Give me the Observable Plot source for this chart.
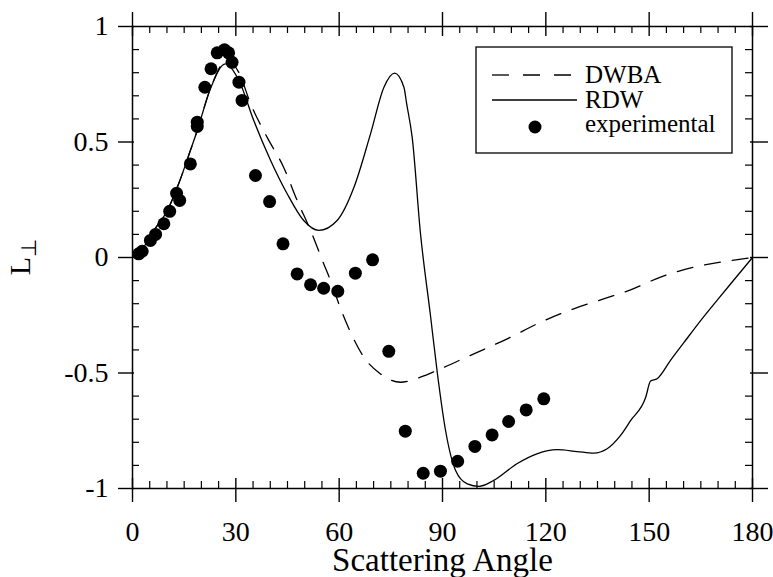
<!DOCTYPE html>
<html>
<head>
<meta charset="utf-8">
<script src="https://cdn.jsdelivr.net/npm/d3@7"></script>
<script src="https://cdn.jsdelivr.net/npm/@observablehq/plot@0.6"></script>
<style>
  html, body { margin: 0; padding: 0; background: white; }
</style>
</head>
<body>
<script>
// ---- data ----
const majorX = [0, 30, 60, 90, 120, 150, 180];
const minorX = [5,10,15,20,25,35,40,45,50,55,65,70,75,80,85,95,100,105,110,115,125,130,135,140,145,155,160,165,170,175];
const majorY = [-1, -0.5, 0, 0.5, 1];
const minorY = [-0.9,-0.8,-0.7,-0.6,-0.4,-0.3,-0.2,-0.1,0.1,0.2,0.3,0.4,0.6,0.7,0.8,0.9];

// RDW (solid)
const rdwAngle = [0, 3, 6.2, 10.1, 13.4, 16.8, 18.8, 22.6, 27, 30.9, 35.2, 40.1, 44.9, 49.7, 54.1, 59.4, 64.3, 69.1, 73, 76.1, 78.8, 79.6, 81.2, 83.6, 86.5, 88.5, 90.9, 93.8, 97.2, 100.6, 104.9, 111.6, 117.4, 123.3, 129.1, 133.9, 137.8, 141.7, 144.6, 149, 150.4, 152.3, 156.2, 160, 165, 170, 175, 180];
const rdwL     = [0, 0.04, 0.117, 0.203, 0.319, 0.463, 0.55, 0.73, 0.838, 0.766, 0.593, 0.42, 0.276, 0.16, 0.117, 0.16, 0.304, 0.535, 0.737, 0.798, 0.737, 0.665, 0.52, 0.105, -0.25, -0.5, -0.75, -0.922, -0.98, -0.991, -0.965, -0.893, -0.85, -0.832, -0.84, -0.847, -0.828, -0.77, -0.706, -0.605, -0.535, -0.525, -0.445, -0.37, -0.272, -0.18, -0.09, 0];

// DWBA (dashed)
const dwbaAngle = [0, 3, 6.2, 10.1, 13.4, 16.8, 18.8, 22.6, 27.5, 30.9, 34.3, 39.1, 43.9, 47.8, 51.7, 55.5, 57.5, 59.4, 62.3, 67.2, 72, 77.8, 83.6, 89.4, 99.1, 108.8, 118.5, 128.1, 137, 144.6, 153.3, 163, 173.7, 180];
const dwbaL     = [0, 0.04, 0.117, 0.203, 0.319, 0.463, 0.55, 0.73, 0.855, 0.8, 0.665, 0.52, 0.39, 0.247, 0.117, -0.027, -0.1, -0.18, -0.29, -0.432, -0.504, -0.54, -0.518, -0.482, -0.417, -0.352, -0.28, -0.222, -0.178, -0.14, -0.085, -0.042, -0.013, 0];

// experimental
const expAngle = [1.8, 2.8, 5.2, 6.7, 9.1, 10.8, 12.8, 13.7, 16.8, 18.8, 18.8, 21.0, 22.8, 24.6, 26.7, 27.9, 28.9, 30.9, 31.8, 35.7, 39.8, 43.7, 47.8, 51.7, 55.5, 59.6, 64.7, 69.7, 74.4, 79.2, 84.4, 89.4, 94.4, 99.4, 104.4, 109.2, 114.3, 119.4];
const expL     = [0.016, 0.027, 0.074, 0.1, 0.146, 0.2, 0.278, 0.247, 0.405, 0.586, 0.567, 0.737, 0.817, 0.886, 0.899, 0.886, 0.845, 0.759, 0.68, 0.355, 0.242, 0.059, -0.071, -0.118, -0.133, -0.146, -0.068, -0.01, -0.406, -0.752, -0.934, -0.925, -0.882, -0.818, -0.768, -0.71, -0.66, -0.612];

const legendLabels = ["DWBA", "RDW", "experimental"];
const xLabel = "Scattering Angle";
const yLabelMain = "L", yLabelSub = "\u22A5";

// ---- tables ----
const rdw = rdwAngle.map((a, i) => ({a, L: rdwL[i]}));
const dwba = dwbaAngle.map((a, i) => ({a, L: dwbaL[i]}));
const exp = expAngle.map((a, i) => ({a, L: expL[i]}));

const W = 773, H = 577;
const mL = 132, mR = 21, mT = 26, mB = 89;
const innerW = W - mL - mR, innerH = H - mT - mB;
const FONT = "'Liberation Serif', 'Times New Roman', serif";

const chart = Plot.plot({
  width: W, height: H,
  marginLeft: mL, marginRight: mR, marginTop: mT, marginBottom: mB,
  style: {fontFamily: FONT, background: "white", color: "black"},
  x: {domain: [0, 180]},
  y: {domain: [-1, 1]},
  marks: [
    // minor ticks (inward)
    Plot.tickX(minorX, {x: d => d, insetTop: innerH - 7, stroke: "black", strokeWidth: 1.2}),
    Plot.tickX(minorX, {x: d => d, insetBottom: innerH - 7, stroke: "black", strokeWidth: 1.2}),
    Plot.tickY(minorY, {y: d => d, insetRight: innerW - 7, stroke: "black", strokeWidth: 1.2}),
    Plot.tickY(minorY, {y: d => d, insetLeft: innerW - 7, stroke: "black", strokeWidth: 1.2}),
    // major ticks
    Plot.tickX(majorX, {x: d => d, insetTop: innerH - 10, insetBottom: -14, stroke: "black", strokeWidth: 1.4}),
    Plot.tickX(majorX, {x: d => d, insetTop: -14, insetBottom: innerH - 10, stroke: "black", strokeWidth: 1.4}),
    Plot.tickY(majorY, {y: d => d, insetLeft: -14, insetRight: innerW - 2, stroke: "black", strokeWidth: 1.4}),
    Plot.tickY(majorY, {y: d => d, insetLeft: innerW - 2, insetRight: -16, stroke: "black", strokeWidth: 1.4}),
    Plot.frame({stroke: "black", strokeWidth: 1.5}),
    // tick labels
    Plot.axisX({ticks: majorX, tickSize: 0, tickPadding: 33, fontSize: 28, label: null, tickFormat: d => String(d), fill: "black"}),
    Plot.axisY({ticks: majorY, tickSize: 0, tickPadding: 24, fontSize: 28, label: null, tickFormat: d => String(d), fill: "black"}),
    // x axis label
    Plot.text([xLabel], {text: d => d, frameAnchor: "bottom", lineAnchor: "middle", textAnchor: "middle", dy: 72, fontSize: 33, fill: "black"}),
    // curves
    Plot.line(dwba, {x: "a", y: "L", stroke: "black", strokeWidth: 1.3, strokeDasharray: "16,12", curve: "monotone-x"}),
    Plot.line(rdw, {x: "a", y: "L", stroke: "black", strokeWidth: 1.3, curve: "monotone-x"}),
    Plot.dot(exp, {x: "a", y: "L", r: 6.5, fill: "black", stroke: "none"})
  ]
});

document.body.appendChild(chart);

const svg = d3.select(chart);

// y axis label L with subscript ⊥, rotated
const yl = svg.append("text")
  .attr("transform", `translate(30,${mT + innerH / 2}) rotate(-90)`)
  .attr("text-anchor", "middle")
  .attr("font-family", FONT)
  .attr("font-size", 30)
  .attr("fill", "black");
yl.append("tspan").text(yLabelMain);
yl.append("tspan").attr("dy", 6).attr("font-size", 21).text(yLabelSub);

// legend box inside the frame
const g = svg.append("g").attr("class", "legend")
  .attr("font-family", FONT).attr("text-anchor", "start");
g.append("rect").attr("x", 476).attr("y", 47).attr("width", 256).attr("height", 106)
  .attr("fill", "white").attr("stroke", "black").attr("stroke-width", 1.3);
g.append("line").attr("x1", 492).attr("x2", 577).attr("y1", 75).attr("y2", 75)
  .attr("stroke", "black").attr("stroke-width", 1.3).attr("stroke-dasharray", "17,14");
g.append("line").attr("x1", 492).attr("x2", 577).attr("y1", 100).attr("y2", 100)
  .attr("stroke", "black").attr("stroke-width", 1.3);
g.append("circle").attr("cx", 535).attr("cy", 127).attr("r", 6.5).attr("fill", "black");
const baselines = [83, 108, 132];
legendLabels.forEach((t, i) => {
  g.append("text").attr("x", 585).attr("y", baselines[i]).attr("font-size", 25)
    .attr("text-anchor", "start").attr("fill", "black").text(t);
});
</script>
</body>
</html>
